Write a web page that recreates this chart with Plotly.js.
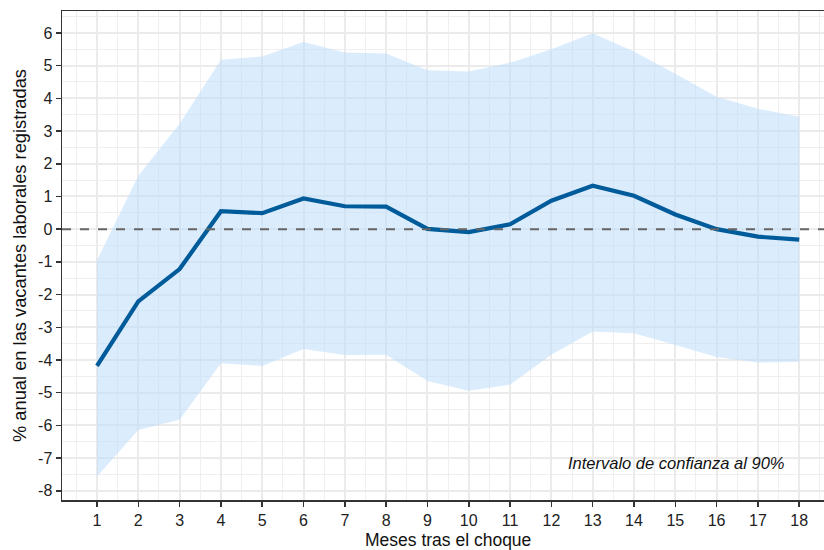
<!DOCTYPE html>
<html>
<head>
<meta charset="utf-8">
<script src="https://cdn.plot.ly/plotly-3.0.1.min.js"></script>
<style>
  html, body { margin: 0; padding: 0; background: #ffffff; }
  #chart { width: 824px; height: 550px; }
</style>
</head>
<body>
<div id="chart"></div>
<script>
// Months after the shock
const months = [1, 2, 3, 4, 5, 6, 7, 8, 9, 10, 11, 12, 13, 14, 15, 16, 17, 18];

// Impulse response: annual % change in registered job vacancies
const response = [-4.18, -2.21, -1.22, 0.55, 0.49, 0.94, 0.70, 0.69, 0.01, -0.09, 0.15, 0.87, 1.33, 1.02, 0.45, 0.00, -0.23, -0.32];

// 90% confidence band
const upper = [-0.95, 1.63, 3.22, 5.18, 5.28, 5.72, 5.40, 5.37, 4.86, 4.82, 5.09, 5.50, 5.99, 5.43, 4.75, 4.05, 3.68, 3.44];
const lower = [-7.56, -6.14, -5.83, -4.10, -4.18, -3.66, -3.85, -3.84, -4.64, -4.94, -4.76, -3.84, -3.13, -3.18, -3.54, -3.91, -4.08, -4.05];

const yTicks = [-8, -7, -6, -5, -4, -3, -2, -1, 0, 1, 2, 3, 4, 5, 6];

const font = 'Liberation Sans, Arial, sans-serif';

const traces = [
  {
    x: months, y: upper, type: 'scatter', mode: 'lines',
    line: { width: 0, color: 'rgba(0,0,0,0)' },
    hoverinfo: 'skip', showlegend: false
  },
  {
    x: months, y: lower, type: 'scatter', mode: 'lines',
    fill: 'tonexty', fillcolor: 'rgba(190,220,252,0.55)',
    line: { width: 0, color: 'rgba(0,0,0,0)' },
    hoverinfo: 'skip', showlegend: false
  },
  {
    x: months, y: response, type: 'scatter', mode: 'lines',
    line: { color: '#005b9a', width: 4.2 },
    showlegend: false
  }
];

const layout = {
  width: 824, height: 550,
  margin: { l: 62, r: 0, t: 11, b: 50 },
  paper_bgcolor: '#ffffff', plot_bgcolor: '#ffffff',
  font: { family: font, color: '#222222', size: 16 },
  showlegend: false,
  xaxis: {
    range: [0.153, 18.6],
    tickmode: 'array', tickvals: months, ticktext: months.map(String),
    ticks: 'outside', ticklen: 5, tickwidth: 1.5, tickcolor: '#333333',
    tickfont: { family: font, size: 16, color: '#222222' },
    showline: true, linecolor: '#333333', linewidth: 1.5, mirror: true,
    showgrid: true, gridcolor: '#ebebeb', gridwidth: 2,
    minor: { dtick: 0.5, tick0: 0.5, showgrid: true, gridcolor: '#efefef', gridwidth: 1, ticks: '' },
    zeroline: false
  },
  yaxis: {
    range: [-8.28, 6.67],
    tickmode: 'array', tickvals: yTicks, ticktext: yTicks.map(String),
    ticks: 'outside', ticklen: 5, tickwidth: 1.5, tickcolor: '#333333',
    tickfont: { family: font, size: 16, color: '#222222' },
    showline: true, linecolor: '#333333', linewidth: 1.5,
    showgrid: true, gridcolor: '#ebebeb', gridwidth: 2,
    minor: { dtick: 0.5, tick0: 0.5, showgrid: true, gridcolor: '#efefef', gridwidth: 1, ticks: '' },
    zeroline: false,
    title: { text: '% anual en las vacantes laborales registradas', font: { family: font, size: 18.3, color: '#111111' }, standoff: 6 }
  },
  shapes: [
    {
      type: 'line', xref: 'paper', x0: 0, x1: 1, yref: 'y', y0: 0, y1: 0,
      line: { color: '#666666', width: 2, dash: 'dash' }, layer: 'above'
    }
  ],
  annotations: [
    {
      // x-axis title, set just below the tick labels
      x: 0.5, y: 0, xref: 'paper', yref: 'paper',
      xanchor: 'center', yanchor: 'top', xshift: 5, yshift: -28,
      text: 'Meses tras el choque',
      showarrow: false,
      font: { family: font, size: 17.5, color: '#111111' }
    },
    {
      x: 15.02, y: -7.14, xref: 'x', yref: 'y',
      text: '<i>Intervalo de confianza al 90%</i>',
      showarrow: false,
      font: { family: font, size: 16.5, color: '#111111' }
    }
  ]
};

Plotly.newPlot('chart', traces, layout, { displayModeBar: false, staticPlot: true });
</script>
</body>
</html>
